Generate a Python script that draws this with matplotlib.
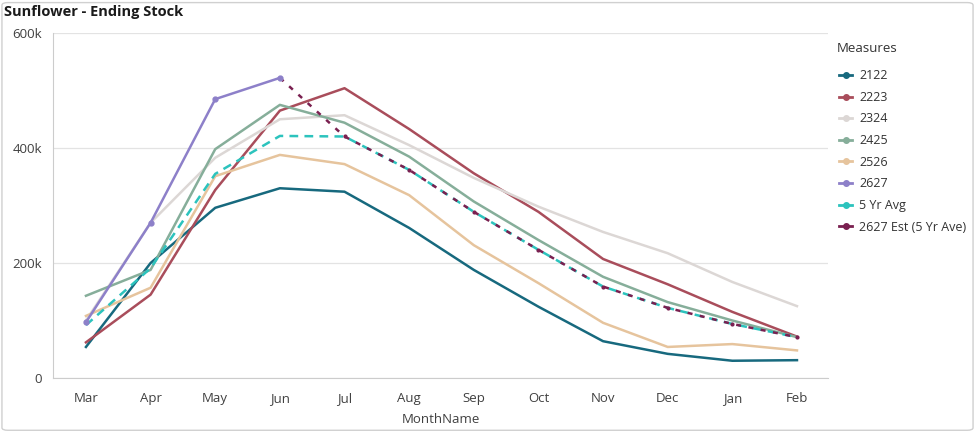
import matplotlib
matplotlib.use("Agg")
import matplotlib.pyplot as plt
from matplotlib.lines import Line2D
from matplotlib.patches import FancyBboxPatch
from matplotlib.ticker import FuncFormatter

plt.rcParams["font.family"] = ["Open Sans", "DejaVu Sans"]

months = ["Mar", "Apr", "May", "Jun", "Jul", "Aug", "Sep", "Oct", "Nov", "Dec", "Jan", "Feb"]

# ending stock, thousands of tonnes
s2122 = [54, 200, 296, 330, 324, 261, 188, 124, 64, 42, 30, 31]
s2223 = [62, 145, 327, 465, 504, 433, 356, 289, 207, 163, 115, 72]
s2324 = [100, 270, 383, 450, 457, 405, 348, 298, 254, 217, 167, 125]
s2425 = [143, 188, 398, 475, 444, 385, 307, 240, 176, 132, 100, 71]
s2526 = [108, 157, 351, 388, 372, 318, 231, 165, 96, 54, 59, 48]
s2627 = [97, 270, 485, 522]
avg5 = [92, 191, 355, 421, 420, 362, 289, 223, 159, 122, 94, 71]
est2627 = [522, 420, 362, 289, 223, 159, 122, 94, 71]  # Jun..Feb

series = [
    ("2122", s2122, "#17697e"),
    ("2223", s2223, "#a94d5b"),
    ("2324", s2324, "#dcd7d5"),
    ("2425", s2425, "#86ae9a"),
    ("2526", s2526, "#e6c49d"),
]

fig = plt.figure(figsize=(9.75, 4.32), dpi=100)
ax = fig.add_axes([53 / 975, 1 - 378 / 432, 775 / 975, 345 / 432])

x = list(range(len(months)))
for name, vals, col in series:
    ax.plot(x, vals, color=col, lw=1.8, zorder=2)
ax.plot(x, avg5, color="#2cc3bd", lw=1.8, ls=(0, (3.5, 2.5)), zorder=3)
ax.plot(x[3:], est2627, color="#7a2050", lw=1.8, ls=(0, (2, 3)), zorder=3,
        marker="o", ms=2)
ax.plot(x[:4], s2627, color="#8d80c9", lw=1.8, marker="o", ms=3.5, zorder=4)

ax.set_xlim(-0.51, 11.48)
ax.set_ylim(0, 600)
ax.set_xticks(x)
ax.set_xticklabels(months)
ax.set_yticks([0, 200, 400, 600])
ax.yaxis.set_major_formatter(FuncFormatter(lambda v, _: "0" if v == 0 else f"{int(v)}k"))
ax.grid(axis="y", color="#e3e3e3", lw=0.9)
ax.set_axisbelow(True)
for sp in ["top", "right"]:
    ax.spines[sp].set_visible(False)
for sp in ["left", "bottom"]:
    ax.spines[sp].set_color("#cccccc")
ax.tick_params(axis="both", length=0, labelsize=9.5, colors="#404040")
ax.tick_params(axis="x", pad=10)
ax.tick_params(axis="y", pad=8)
ax.set_xlabel("MonthName", fontsize=9.5, color="#404040", labelpad=6)

fig.text(4 / 975, 1 - 12 / 432, "Sunflower - Ending Stock", fontsize=10.5, fontweight="bold",
         color="#1a1a1a", va="center", ha="left")

# legend: title drawn separately so the gap below it matches
fig.text(837 / 975, 1 - 49 / 432, "Measures", fontsize=9.5, color="#333333", va="center", ha="left")
handles = [Line2D([], [], color=c, lw=2, marker="o", ms=4) for _, _, c in series]
handles += [Line2D([], [], color="#8d80c9", lw=2, marker="o", ms=4),
            Line2D([], [], color="#2cc3bd", lw=2, marker="o", ms=4),
            Line2D([], [], color="#7a2050", lw=2, marker="o", ms=4)]
labels = [n for n, _, _ in series] + ["2627", "5 Yr Avg", "2627 Est (5 Yr Ave)"]
leg = fig.legend(handles, labels, loc="upper left", bbox_to_anchor=(828 / 975, 1 - 58 / 432),
                 frameon=False, fontsize=9, handlelength=1.0, handletextpad=0.6,
                 labelspacing=0.69)
for t in leg.get_texts():
    t.set_color("#333333")

fig.patches.append(FancyBboxPatch((0.002, 0.004), 0.996, 0.99, boxstyle="round,pad=0,rounding_size=0.006",
                                  transform=fig.transFigure, fill=False, ec="#d0d0d0", lw=1))

fig.savefig("out.png", dpi=100)
